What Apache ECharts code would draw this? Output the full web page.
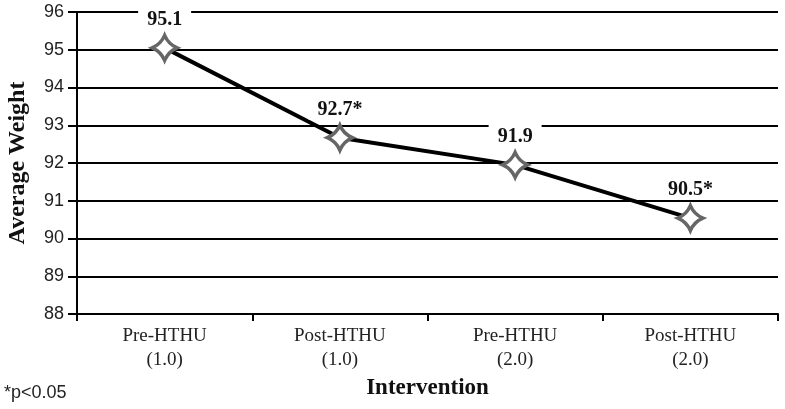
<!DOCTYPE html>
<html><head><meta charset="utf-8">
<script src="https://cdn.jsdelivr.net/npm/echarts@6/dist/echarts.min.js"></script>
<style>html,body{margin:0;padding:0;background:#fff}#c{width:785px;height:409px}</style>
</head><body><div id="c"></div>
<script>
const categories = ["Pre-HTHU\n(1.0)", "Post-HTHU\n(1.0)", "Pre-HTHU\n(2.0)", "Post-HTHU\n(2.0)"];
const weights = [95.05, 92.67, 91.95, 90.54];
const pointLabels = ["95.1", "92.7*", "91.9", "90.5*"];
const yTicks = {min: 88, max: 96, interval: 1};

const chart = echarts.init(document.getElementById('c'));
chart.setOption({
  animation: false,
  grid: {left: 77, right: 7, top: 12, bottom: 95, containLabel: false, outerBoundsMode: 'none'},
  xAxis: {
    type: 'category', data: categories, boundaryGap: true,
    axisLine: {lineStyle: {color: '#000', width: 2}},
    axisTick: {show: true, length: 7, lineStyle: {color: '#000', width: 2}},
    axisLabel: {fontFamily: 'Liberation Serif', fontSize: 19, color: '#222', lineHeight: 24, margin: 10},
    name: 'Intervention', nameLocation: 'middle', nameGap: 61,
    nameTextStyle: {fontFamily: 'Liberation Serif', fontWeight: 'bold', fontSize: 23, color: '#111'}
  },
  yAxis: {
    type: 'value', min: yTicks.min, max: yTicks.max, interval: yTicks.interval,
    axisLine: {show: true, lineStyle: {color: '#000', width: 2}},
    axisTick: {show: true, length: 9, lineStyle: {color: '#000', width: 2}},
    splitLine: {lineStyle: {color: '#000', width: 2}},
    axisLabel: {fontFamily: 'Liberation Sans', fontSize: 18, color: '#222', margin: 13},
    name: 'Average Weight', nameLocation: 'middle', nameGap: 47,
    nameTextStyle: {fontFamily: 'Liberation Serif', fontWeight: 'bold', fontSize: 24, color: '#111'}
  },
  graphic: [{type: 'text', left: 4, top: 384, style: {text: '*p<0.05', font: '18px "Liberation Sans"', fill: '#222'}}],
  series: [{
    type: 'line', data: weights,
    lineStyle: {color: '#000', width: 4},
    symbol: 'path://M0,-10 Q3,-3 10,0 Q3,3 0,10 Q-3,3 -10,0 Q-3,-3 0,-10 Z',
    symbolSize: 25,
    itemStyle: {color: '#fff', borderColor: '#666', borderWidth: 3.5},
    label: {
      show: true, position: 'top', distance: 4,
      formatter: p => pointLabels[p.dataIndex],
      fontFamily: 'Liberation Serif', fontWeight: 'bold', fontSize: 20, color: '#111',
      backgroundColor: '#fff', padding: [2, 9, 0, 9]
    },
    z: 5
  }]
});
</script></body></html>
